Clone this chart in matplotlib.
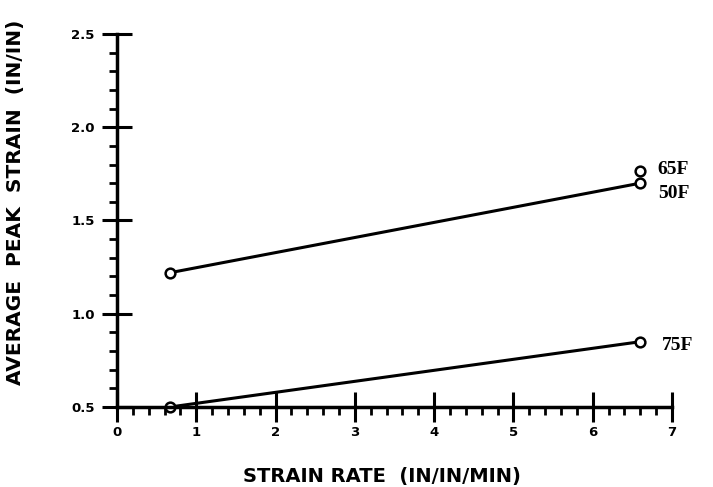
import numpy as np
import matplotlib.pyplot as plt
from matplotlib.ticker import MultipleLocator

# values
rate = [0.67, 6.60]
strain_50f = [1.22, 1.70]
strain_75f = [0.50, 0.85]
rate_65f = [6.60]
strain_65f = [1.765]

xticks = [0, 1, 2, 3, 4, 5, 6, 7]
xticklabels = ["0", "1", "2", "3", "4", "5", "6", "7"]
yticks = [0.5, 1.0, 1.5, 2.0, 2.5]
yticklabels = ["0.5", "1.0", "1.5", "2.0", "2.5"]

fig = plt.figure(figsize=(7.13, 4.87), dpi=100)
ax = fig.add_axes([0.164, 0.1643, 0.7785, 0.766])

mk = dict(marker="o", markersize=7, markerfacecolor="white",
          markeredgecolor="black", markeredgewidth=1.8, clip_on=False)
ax.plot(rate, strain_50f, "-", color="black", lw=2.2, **mk)
ax.plot(rate, strain_75f, "-", color="black", lw=2.2, **mk)
ax.plot(rate_65f, strain_65f, "none", **mk)

serif = dict(family="Liberation Serif", fontweight="bold", fontsize=14)
ax.text(6.82, 1.775, "65F", va="center", ha="left", **serif)
ax.text(6.82, 1.642, "50F", va="center", ha="left", **serif)
ax.text(6.87, 0.827, "75F", va="center", ha="left", **serif)

ax.set_xlim(0, 7)
ax.set_ylim(0.5, 2.5)
for s in ["top", "right"]:
    ax.spines[s].set_visible(False)
for s in ["left", "bottom"]:
    ax.spines[s].set_linewidth(2.5)

ax.set_xticks(xticks)
ax.set_xticklabels(xticklabels)
ax.set_yticks(yticks)
ax.set_yticklabels(yticklabels)
ax.xaxis.set_minor_locator(MultipleLocator(0.2))
ax.yaxis.set_minor_locator(MultipleLocator(0.1))
ax.tick_params(which="major", direction="inout", length=22, width=2.2,
               labelsize=9.5, pad=3)
ax.tick_params(axis="y", which="major", pad=5)
ax.tick_params(which="minor", direction="out", length=6, width=2)
for lab in ax.get_xticklabels() + ax.get_yticklabels():
    lab.set_fontweight("bold")

ax.set_xlabel("STRAIN RATE  (IN/IN/MIN)", fontsize=14, fontweight="bold")
ax.set_ylabel("AVERAGE  PEAK  STRAIN  (IN/IN)", fontsize=14.5,
              fontweight="bold")
ax.xaxis.set_label_coords(0.477, -0.16)
ax.yaxis.set_label_coords(-0.165, 0.55)

fig.savefig("out.png", dpi=100)
